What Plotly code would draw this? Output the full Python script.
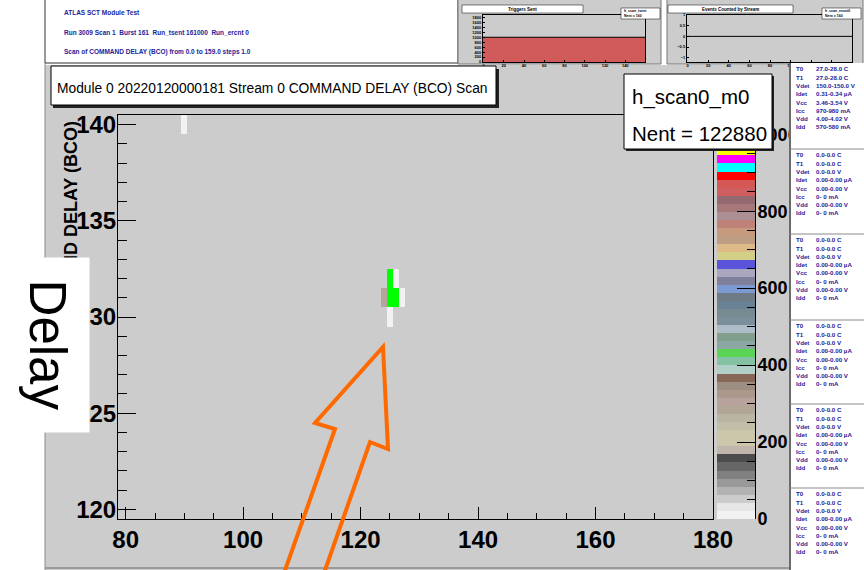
import plotly.graph_objects as go

W, H = 864, 570
SANS = "Liberation Sans, Arial, Helvetica, sans-serif"
NAVY = "#23239a"
PAD_GREY = "#cccccc"

# ---------- h_scan0_m0 : filled bins (BCO, delay, entries) ----------
bin_bco = [90, 125, 126, 124, 125, 126, 127, 125]
bin_delay = [140, 132, 132, 131, 131, 131, 131, 130]
bin_count = [10, 1000, 10, 300, 1000, 1000, 10, 10]

bco_bins = list(range(79, 181))      # x bin centres shown
delay_bins = list(range(120, 141))   # y bin centres shown
z_max = 1050

# ROOT default 50-entry palette (colour indices, bottom -> top)
palette_index = [19, 18, 17, 16, 15, 14, 13, 12, 11, 20,
                 21, 22, 23, 24, 25, 26, 27, 28, 29, 30,
                 8, 31, 32, 33, 34, 35, 36, 37, 38, 39,
                 40, 9, 41, 42, 43, 44, 45, 47, 48, 49,
                 46, 50, 2, 7, 6, 5, 4, 3, 2, 1]
root_rgb = {
    1: (0, 0, 0), 2: (1, 0, 0), 3: (0, 1, 0), 4: (0, 0, 1), 5: (1, 1, 0),
    6: (1, 0, 1), 7: (0, 1, 1), 8: (0.35, 0.83, 0.33), 9: (0.35, 0.33, 0.85),
    11: (0.754, 0.715, 0.676), 12: (0.3, 0.3, 0.3), 13: (0.4, 0.4, 0.4),
    14: (0.5, 0.5, 0.5), 15: (0.6, 0.6, 0.6), 16: (0.7, 0.7, 0.7),
    17: (0.8, 0.8, 0.8), 18: (0.9, 0.9, 0.9), 19: (0.95, 0.95, 0.95),
    20: (0.8, 0.78, 0.67), 21: (0.8, 0.78, 0.67), 22: (0.76, 0.75, 0.66),
    23: (0.73, 0.71, 0.64), 24: (0.7, 0.65, 0.59), 25: (0.72, 0.64, 0.61),
    26: (0.68, 0.6, 0.55), 27: (0.61, 0.56, 0.51), 28: (0.53, 0.4, 0.34),
    29: (0.69, 0.81, 0.78), 30: (0.52, 0.76, 0.64), 31: (0.54, 0.66, 0.63),
    32: (0.51, 0.62, 0.55), 33: (0.68, 0.74, 0.78), 34: (0.48, 0.56, 0.6),
    35: (0.46, 0.54, 0.57), 36: (0.41, 0.51, 0.59), 37: (0.43, 0.48, 0.52),
    38: (0.49, 0.6, 0.82), 39: (0.5, 0.5, 0.61), 40: (0.67, 0.65, 0.75),
    41: (0.83, 0.81, 0.53), 42: (0.87, 0.73, 0.53), 43: (0.74, 0.62, 0.51),
    44: (0.78, 0.6, 0.49), 45: (0.75, 0.51, 0.47), 46: (0.81, 0.37, 0.38),
    47: (0.67, 0.56, 0.58), 48: (0.65, 0.47, 0.48), 49: (0.58, 0.41, 0.44),
    50: (0.83, 0.35, 0.33),
}

# ---------- small monitoring histograms ----------
scan_step_edges = [-0.5, 159.5]
triggers_sent = [1000, 1000]
events_counted = [0, 0]

# ---------- header / module status text ----------
header_lines = [
    "ATLAS SCT Module Test",
    "Run 3009 Scan 1  Burst 161  Run_tsent 161000  Run_ercnt 0",
    "Scan of COMMAND DELAY (BCO) from 0.0 to 159.0 steps 1.0",
]
status_labels = ["T0", "T1", "Vdet", "Idet", "Vcc", "Icc", "Vdd", "Idd"]
status_active = ["27.0-28.0 C", "27.0-28.0 C", "150.0-150.0 V", "0.31-0.34 \u00b5A",
                 "3.46-3.54 V", "970-980 mA", "4.00-4.02 V", "570-580 mA"]
status_idle = ["0.0-0.0 C", "0.0-0.0 C", "0.0-0.0 V", "0.00-0.00 \u00b5A",
               "0.00-0.00 V", "0- 0 mA", "0.00-0.00 V", "0- 0 mA"]
status_blocks = [status_active] + [status_idle] * 5

plot_title = "Module 0 20220120000181 Stream 0 COMMAND DELAY (BCO) Scan"
hist_name = "h_scan0_m0"
hist_entries = 122880


def px(x):
    return x / W


def py(y):
    return 1 - y / H


def hexcol(rgb):
    return "#%02x%02x%02x" % tuple(int(round(c * 255)) for c in rgb)


palette_hex = [hexcol(root_rgb[i]) for i in palette_index]
n_col = len(palette_hex)
colorscale = []
for i, c in enumerate(palette_hex):
    colorscale.append([i / n_col, c])
    colorscale.append([(i + 1) / n_col, c])

# 2-D bin grid, empty bins left transparent
z = [[None for _ in bco_bins] for _ in delay_bins]
for bx, by, cnt in zip(bin_bco, bin_delay, bin_count):
    z[delay_bins.index(by)][bco_bins.index(bx)] = cnt

fig = go.Figure()

fig.add_trace(go.Heatmap(
    x=bco_bins, y=delay_bins, z=z, colorscale=colorscale, zmin=0, zmax=z_max,
    showscale=False, hoverongaps=False, xaxis="x", yaxis="y"))

# palette strip drawn as its own heatmap on a side axis
band = z_max / n_col
band_centres = [(i + 0.5) * band for i in range(n_col)]
fig.add_trace(go.Heatmap(
    x=[0.5], y=band_centres, z=[[v] for v in band_centres], colorscale=colorscale,
    zmin=0, zmax=z_max, showscale=False, xaxis="x2", yaxis="y2"))

fig.add_trace(go.Scatter(
    x=scan_step_edges, y=triggers_sent, mode="lines", line=dict(color="black", width=1),
    fill="tozeroy", fillcolor="#d15b5b", xaxis="x3", yaxis="y3", showlegend=False))
fig.add_trace(go.Scatter(
    x=scan_step_edges, y=events_counted, mode="lines", line=dict(color="black", width=1),
    xaxis="x4", yaxis="y4", showlegend=False))

frame_y = [py(519), py(115)]
mini_y = [py(62), py(15)]
axis_common = dict(showline=True, linecolor="black", linewidth=1, showgrid=False,
                   zeroline=False, ticks="inside", tickcolor="black", tickwidth=1)
big_font = dict(family=SANS, size=24, color="black", weight="bold")
tiny_font = dict(family=SANS, size=4, color="black", weight="bold")

fig.update_layout(
    width=W, height=H, autosize=False, template="none",
    margin=dict(l=0, r=0, t=0, b=0, pad=0),
    paper_bgcolor="white", plot_bgcolor=PAD_GREY, showlegend=False,
    font=dict(family=SANS),
    xaxis=dict(domain=[px(118), px(713)], range=[78.7, 180.0], anchor="y", mirror=True,
               tick0=0, dtick=20, ticklen=12, tickfont=big_font, ticklabelstandoff=-1,
               minor=dict(dtick=5, ticklen=6, ticks="inside", tickcolor="black", showgrid=False),
               **axis_common),
    yaxis=dict(domain=frame_y, range=[119.5, 140.5], anchor="x", mirror=True,
               tick0=0, dtick=5, ticklen=18, tickfont=big_font, ticklabelstandoff=-4,
               minor=dict(dtick=1, ticklen=9, ticks="inside", tickcolor="black", showgrid=False),
               **axis_common),
    xaxis2=dict(domain=[px(717), px(755)], range=[0, 1], anchor="y2", visible=False),
    yaxis2=dict(domain=frame_y, range=[0, z_max], anchor="x2", side="right",
                tick0=0, dtick=200, ticklen=18, ticklabelstandoff=-2,
                tickfont=dict(family=SANS, size=18, color="black", weight="bold"),
                minor=dict(dtick=50, ticklen=8, ticks="inside", tickcolor="black", showgrid=False),
                **axis_common),
    xaxis3=dict(domain=[px(483), px(645)], range=[-0.5, 159.5], anchor="y3", mirror=True,
                dtick=20, ticklen=2, tickfont=tiny_font, ticklabelstandoff=-1, **axis_common),
    yaxis3=dict(domain=mini_y, range=[0, 1900], anchor="x3", mirror=True,
                dtick=200, ticklen=2, tickfont=tiny_font, ticklabelstandoff=0, **axis_common),
    xaxis4=dict(domain=[px(687), px(852)], range=[-0.5, 159.5], anchor="y4", mirror=True,
                dtick=20, ticklen=2, tickfont=tiny_font, ticklabelstandoff=-1, **axis_common),
    yaxis4=dict(domain=mini_y, range=[-1.2, 1.0], anchor="x4", mirror=True,
                dtick=0.5, ticklen=2, tickfont=tiny_font, ticklabelstandoff=0, **axis_common),
)


def rect(x0, y0, x1, y1, fill, line=None, width=1, layer="above"):
    return dict(type="rect", xref="paper", yref="paper", x0=px(x0), x1=px(x1),
                y0=py(y1), y1=py(y0), fillcolor=fill, layer=layer,
                line=dict(color=line or fill, width=width if line else 0))


def hline(x0, x1, y, color, width=1, layer="above"):
    return dict(type="line", xref="paper", yref="paper", x0=px(x0), x1=px(x1),
                y0=py(y), y1=py(y), line=dict(color=color, width=width), layer=layer)


def vline(x, y0, y1, color, width=1, layer="above"):
    return dict(type="line", xref="paper", yref="paper", x0=px(x), x1=px(x),
                y0=py(y0), y1=py(y1), line=dict(color=color, width=width), layer=layer)


shapes = [
    # canvas pads
    rect(45, 65, 790, 572, PAD_GREY, layer="below"),
    vline(45, 63, 570, "#8a8a8a", 1, layer="below"),
    hline(45, 790, 568, "#9a9a9a", 2, layer="below"),
    rect(45, -3, 458, 63, "white", "#333333", 1, layer="below"),
    rect(458, -3, 661, 64, PAD_GREY, "#777777", 1, layer="below"),
    rect(667, -3, 863, 64, PAD_GREY, "#777777", 1, layer="below"),
    # title pave with shadow
    rect(53, 69, 499, 108, "#222222"),
    rect(51, 66, 496, 105, "white", "black", 1),
    # statistics box with shadow
    rect(626, 76, 774, 151, "#222222"),
    rect(624, 74, 772, 149, "white", "black", 1),
    # mini panel title / stats boxes
    rect(462, 5, 583, 13, "white", "black", 0.5),
    rect(621, 8, 660, 19, "white", "black", 0.5),
    rect(668, 5, 793, 13, "white", "black", 0.5),
    rect(822, 8, 861, 19, "white", "black", 0.5),
    # module status column
    rect(790, 63, 866, 572, "white"),
    vline(790, 63, 570, "#6a6a6a", 2),
]
block_tops = [63, 149, 234, 320, 404, 488]
for t in block_tops[1:]:
    shapes.append(hline(790, 864, t, "#8a8a8a", 1))

# hand-drawn orange arrow pointing at the timing window
arrow_pts = [(283, 576), (335, 429), (315, 423), (383, 347),
             (388, 449), (370, 442), (323, 576)]
path = "M " + " L ".join("%.5f,%.5f" % (px(x), py(y)) for x, y in arrow_pts)
shapes.append(dict(type="path", xref="paper", yref="paper", path=path,
                   line=dict(color="#ff6a00", width=4), layer="above"))
fig.update_layout(shapes=shapes)


def label(x, y, text, size, color="black", xanchor="left", yanchor="middle",
          weight="normal", **kw):
    return dict(x=px(x), y=py(y), xref="paper", yref="paper", text=text,
                showarrow=False, xanchor=xanchor, yanchor=yanchor, borderpad=0,
                font=dict(size=size, color=color, family=SANS, weight=weight), **kw)


ann = [
    label(56, 88, plot_title, 13.8),
    label(631, 97, hist_name, 20.5),
    label(631, 133, "Nent = %d" % hist_entries, 20.5),
    label(522, 9, "Triggers Sent", 4.5, xanchor="center", weight="bold"),
    label(730, 9, "Events Counted by Stream", 4.5, xanchor="center", weight="bold"),
    label(623, 11, "h_scan_tsent", 3.5, weight="bold"),
    label(623, 16, "Nent = 160", 3.5, weight="bold"),
    label(824, 11, "h_scan_evcnt0", 3.5, weight="bold"),
    label(824, 16, "Nent = 160", 3.5, weight="bold"),
]
for i, line in enumerate(header_lines):
    ann.append(label(63, 13 + 19.5 * i, line, 6.5, color=NAVY, weight="bold"))
for top, values in zip(block_tops, status_blocks):
    for j, (name, val) in enumerate(zip(status_labels, values)):
        yy = top + 5.8 + 8.3 * j
        ann.append(label(795, yy, name, 6.2, color=NAVY, weight="bold"))
        ann.append(label(815, yy, val, 6.2, color=NAVY, weight="bold"))

# y-axis title, right-aligned to the top of the frame
ann.append(dict(x=px(70.5), y=py(119), xref="paper", yref="paper",
                text="COMMAND DELAY (BCO)", textangle=-90, showarrow=False,
                xanchor="center", yanchor="top",
                font=dict(size=18, color="black", family=SANS, weight="bold")))
# white "Delay" label pasted over the axis title
ann.append(dict(x=px(47), y=py(345), xref="paper", yref="paper", text="Delay",
                textangle=90, showarrow=False, xanchor="center", yanchor="middle",
                bgcolor="white", width=174, height=84, borderpad=0,
                align="center", valign="middle",
                font=dict(size=51, color="black", family=SANS)))
fig.update_layout(annotations=ann)

fig.write_html("out.html")
